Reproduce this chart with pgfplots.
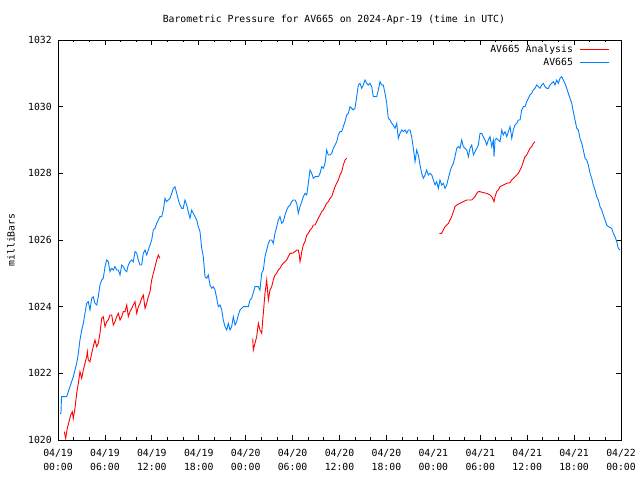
\documentclass[border=0pt]{standalone}
\usepackage{fontspec}
\setmainfont{DejaVu Sans Mono}
\usepackage{pgfplots}
\pgfplotsset{compat=1.18}
\definecolor{gpred}{RGB}{255,0,0}
\definecolor{gpblue}{RGB}{0,128,255}
\begin{document}
\begin{tikzpicture}[x=1bp,y=1bp]
\path[use as bounding box] (0,0) rectangle (640,480);
\begin{axis}[
  at={(58bp,40bp)}, anchor=south west,
  width=563bp, height=400bp, scale only axis,
  xmin=0, xmax=72, ymin=1020, ymax=1032,
  font=\fontsize{9.8bp}{14bp}\selectfont,
  axis line style={line width=0.8bp, black},
  tick style={line width=0.8bp, black},
  tick align=inside,
  major tick length=5bp, minor tick length=2.5bp,
  xtick={0,6,...,72},
  minor xtick={2,4,8,10,14,16,20,22,26,28,32,34,38,40,44,46,50,52,56,58,62,64,68,70},
  xticklabels={{04/19\\00:00},{04/19\\06:00},{04/19\\12:00},{04/19\\18:00},{04/20\\00:00},{04/20\\06:00},{04/20\\12:00},{04/20\\18:00},{04/21\\00:00},{04/21\\06:00},{04/21\\12:00},{04/21\\18:00},{04/22\\00:00}},
  xticklabel style={font=\fontsize{9.8bp}{14bp}\selectfont, align=center, inner sep=0pt, anchor=north, yshift=-9bp},
  ytick={1020,1022,1024,1026,1028,1030,1032},
  yticklabels={1020,1022,1024,1026,1028,1030,1032},
  yticklabel style={inner sep=0pt, anchor=east, xshift=-6bp},
  title={Barometric Pressure for AV665 on 2024-Apr-19 (time in UTC)},
  every axis title/.style={at={(axis description cs:0.49,1)}, anchor=base, yshift=17.5bp, inner sep=0pt},
  ylabel={milliBars},
  every axis y label/.style={at={(axis description cs:0,0.5)}, xshift=-47bp, rotate=90, anchor=center},
  unbounded coords=jump,
  legend plot pos=right,
  legend cell align=right,
  legend image code/.code={\draw[#1] (0bp,0bp) -- (29bp,0bp);},
  legend style={at={(axis description cs:0.9805,1)}, anchor=north east, yshift=-5bp,
    draw=none, fill=none, inner sep=0pt, row sep=4bp, column sep=7bp,
    nodes={inner sep=0pt, text height=7bp, text depth=2bp}},
]
\addplot[gpred, line width=0.9bp] coordinates {
(0.81,1020.25)(0.98,1020.05)(1.19,1020.35)(1.41,1020.55)(1.62,1020.75)(1.83,1020.85)(1.96,1020.65)(2.17,1020.95)(2.39,1021.4)(2.60,1021.7)(2.81,1022.05)(3.03,1021.85)(3.24,1022.1)(3.45,1022.3)(3.67,1022.5)(3.75,1022.65)(3.88,1022.4)(4.09,1022.35)(4.31,1022.6)(4.51,1022.8)(4.73,1023.0)(4.95,1022.8)(5.15,1022.9)(5.37,1023.2)(5.59,1023.65)(5.79,1023.7)(6.01,1023.4)(6.23,1023.55)(6.43,1023.6)(6.65,1023.75)(6.87,1023.75)(7.07,1023.45)(7.29,1023.55)(7.51,1023.7)(7.71,1023.8)(7.93,1023.6)(8.15,1023.7)(8.35,1023.85)(8.57,1023.85)(8.79,1024.05)(8.99,1023.7)(9.21,1023.85)(9.43,1023.95)(9.63,1024.05)(9.85,1024.15)(10.07,1023.8)(10.27,1024.0)(10.49,1024.1)(10.70,1024.25)(10.91,1024.35)(11.13,1023.95)(11.34,1024.1)(11.55,1024.3)(11.77,1024.45)(11.98,1024.8)(12.19,1025.0)(12.41,1025.2)(12.62,1025.4)(12.83,1025.55)(13.04,1025.45)
(18,nan)
(24.90,1023.05)(24.98,1022.7)(25.19,1022.9)(25.41,1023.1)(25.62,1023.5)(25.83,1023.3)(26.05,1023.2)(26.18,1023.6)(26.26,1023.8)(26.47,1024.4)(26.69,1024.8)(26.90,1024.2)(27.11,1024.5)(27.33,1024.6)(27.53,1024.8)(27.75,1024.95)(27.97,1025.0)(28.17,1025.1)(28.39,1025.15)(28.61,1025.25)(28.81,1025.3)(29.03,1025.35)(29.25,1025.4)(29.45,1025.5)(29.67,1025.6)(29.89,1025.6)(30.09,1025.62)(30.31,1025.65)(30.53,1025.7)(30.73,1025.7)(30.86,1025.55)(30.95,1025.35)(31.08,1025.5)(31.17,1025.65)(31.37,1025.85)(31.59,1025.95)(31.81,1026.15)(32.01,1026.2)(32.23,1026.3)(32.45,1026.35)(32.65,1026.45)(32.87,1026.45)(33.08,1026.55)(33.29,1026.65)(33.51,1026.75)(33.72,1026.85)(33.93,1026.9)(34.15,1027.0)(34.36,1027.1)(34.57,1027.15)(34.79,1027.25)(35.00,1027.3)(35.21,1027.45)(35.43,1027.6)(35.64,1027.7)(35.85,1027.8)(36.06,1027.95)(36.28,1028.05)(36.49,1028.25)(36.70,1028.4)(36.92,1028.45)
(42,nan)
(48.76,1026.2)(49.07,1026.2)(49.28,1026.3)(49.49,1026.4)(49.71,1026.45)(49.92,1026.5)(50.13,1026.6)(50.35,1026.7)(50.56,1026.85)(50.77,1027.0)(50.99,1027.05)(51.41,1027.1)(51.84,1027.15)(52.27,1027.2)(52.91,1027.2)(53.12,1027.25)(53.33,1027.3)(53.55,1027.4)(53.76,1027.45)(53.97,1027.45)(54.39,1027.42)(54.83,1027.4)(55.25,1027.35)(55.47,1027.3)(55.67,1027.2)(55.76,1027.15)(55.89,1027.3)(56.10,1027.45)(56.31,1027.5)(56.53,1027.6)(56.95,1027.65)(57.39,1027.7)(57.81,1027.72)(58.03,1027.8)(58.23,1027.85)(58.45,1027.9)(58.67,1027.95)(58.87,1028.0)(59.09,1028.1)(59.30,1028.2)(59.51,1028.35)(59.72,1028.5)(59.94,1028.55)(60.15,1028.65)(60.36,1028.75)(60.58,1028.8)(60.79,1028.9)(61.00,1028.95)
};
\addlegendentry{AV665 Analysis}
\addplot[gpblue, line width=0.9bp] coordinates {
(0.26,1020.8)(0.38,1020.8)(0.45,1021.3)(0.68,1021.3)(1.11,1021.3)(1.53,1021.6)(1.96,1021.9)(2.39,1022.3)(2.60,1022.6)(2.81,1023.0)(3.03,1023.3)(3.24,1023.5)(3.45,1023.8)(3.67,1024.1)(3.88,1024.15)(4.09,1023.9)(4.31,1024.25)(4.51,1024.3)(4.73,1024.1)(4.95,1024.05)(5.15,1024.3)(5.37,1024.65)(5.59,1024.8)(5.79,1024.85)(6.01,1025.2)(6.23,1025.4)(6.43,1025.35)(6.65,1025.05)(6.87,1025.15)(7.07,1025.1)(7.29,1025.2)(7.51,1025.1)(7.71,1025.1)(7.93,1024.95)(8.15,1025.25)(8.35,1025.2)(8.57,1025.1)(8.79,1025.05)(8.99,1025.25)(9.21,1025.35)(9.43,1025.4)(9.63,1025.35)(9.85,1025.65)(10.07,1025.6)(10.27,1025.4)(10.49,1025.25)(10.70,1025.25)(10.91,1025.6)(11.13,1025.7)(11.34,1025.55)(11.55,1025.7)(11.77,1025.85)(11.98,1026.0)(12.19,1026.3)(12.41,1026.35)(12.62,1026.5)(12.83,1026.6)(13.04,1026.7)(13.26,1026.7)(13.47,1026.9)(13.68,1027.25)(13.90,1027.15)(14.11,1027.2)(14.32,1027.25)(14.54,1027.4)(14.75,1027.55)(14.96,1027.6)(15.18,1027.4)(15.39,1027.2)(15.60,1027.05)(15.82,1026.95)(16.02,1026.95)(16.24,1027.2)(16.46,1027.05)(16.66,1026.85)(16.88,1026.65)(17.10,1026.9)(17.30,1026.8)(17.52,1026.7)(17.74,1026.6)(17.94,1026.4)(18.16,1026.25)(18.38,1025.75)(18.58,1025.5)(18.80,1024.9)(19.02,1024.85)(19.22,1024.95)(19.44,1024.65)(19.66,1024.55)(19.86,1024.6)(20.08,1024.5)(20.30,1024.25)(20.50,1024.0)(20.72,1024.05)(20.94,1023.9)(21.14,1023.6)(21.36,1023.4)(21.58,1023.3)(21.78,1023.5)(22.00,1023.3)(22.21,1023.4)(22.42,1023.7)(22.64,1023.45)(22.85,1023.55)(23.06,1023.75)(23.28,1023.9)(23.70,1024.0)(24.34,1024.0)(24.55,1024.2)(24.77,1024.25)(25.19,1024.6)(25.62,1024.6)(25.83,1024.5)(26.05,1025.0)(26.26,1025.1)(26.47,1025.5)(26.69,1025.7)(26.90,1025.9)(27.11,1026.0)(27.33,1026.0)(27.53,1025.9)(27.75,1026.2)(27.97,1026.4)(28.17,1026.6)(28.39,1026.7)(28.61,1026.5)(28.81,1026.55)(29.03,1026.75)(29.25,1026.9)(29.45,1027.0)(29.67,1027.05)(29.89,1027.15)(30.09,1027.2)(30.31,1027.2)(30.53,1027.1)(30.73,1026.8)(30.95,1027.0)(31.17,1027.15)(31.37,1027.3)(31.59,1027.4)(31.81,1027.35)(32.01,1027.7)(32.23,1028.1)(32.45,1028.0)(32.65,1027.85)(32.87,1027.9)(33.29,1027.9)(33.51,1028.0)(33.72,1028.2)(33.93,1028.15)(34.15,1028.3)(34.36,1028.7)(34.57,1028.55)(34.79,1028.55)(35.00,1028.6)(35.21,1028.75)(35.43,1028.85)(35.64,1028.95)(35.85,1029.15)(36.06,1029.25)(36.28,1029.25)(36.49,1029.4)(36.70,1029.55)(36.92,1029.75)(37.13,1029.8)(37.34,1030.0)(37.56,1029.95)(37.77,1029.9)(37.98,1029.95)(38.20,1030.3)(38.41,1030.65)(38.62,1030.7)(38.84,1030.55)(39.04,1030.65)(39.26,1030.8)(39.48,1030.7)(39.68,1030.65)(39.90,1030.7)(40.12,1030.6)(40.32,1030.3)(40.76,1030.3)(40.96,1030.5)(41.18,1030.75)(41.40,1030.65)(41.60,1030.65)(41.82,1030.4)(42.04,1030.1)(42.24,1029.65)(42.46,1029.6)(42.68,1029.5)(42.88,1029.45)(43.10,1029.35)(43.32,1029.5)(43.52,1029.05)(43.74,1029.2)(43.95,1029.3)(44.16,1029.25)(44.38,1029.3)(44.59,1029.2)(44.80,1029.3)(45.02,1029.3)(45.23,1029.1)(45.44,1028.75)(45.66,1028.35)(45.87,1028.7)(46.08,1028.55)(46.30,1028.25)(46.51,1028.0)(46.72,1027.85)(46.94,1027.95)(47.15,1028.1)(47.36,1027.95)(47.58,1028.0)(47.80,1027.95)(48.00,1027.8)(48.22,1027.65)(48.43,1027.75)(48.64,1027.55)(48.85,1027.8)(49.07,1027.65)(49.28,1027.7)(49.49,1027.55)(49.71,1027.65)(49.92,1027.85)(50.13,1028.05)(50.35,1028.2)(50.56,1028.3)(50.77,1028.5)(50.99,1028.75)(51.20,1028.8)(51.41,1028.75)(51.63,1029.0)(51.84,1028.8)(52.05,1028.75)(52.27,1028.7)(52.48,1028.5)(52.69,1028.75)(52.91,1028.85)(53.12,1028.55)(53.33,1028.65)(53.55,1028.75)(53.76,1028.85)(53.97,1029.2)(54.19,1029.2)(54.39,1029.1)(54.61,1029.0)(54.83,1028.85)(55.03,1029.0)(55.25,1029.1)(55.47,1028.8)(55.67,1029.0)(55.76,1028.5)(55.89,1029.0)(56.10,1029.05)(56.31,1029.0)(56.53,1028.95)(56.75,1029.3)(56.95,1029.15)(57.17,1029.25)(57.39,1029.1)(57.59,1029.25)(57.81,1029.4)(58.03,1029.05)(58.23,1029.3)(58.45,1029.45)(58.67,1029.5)(58.87,1029.6)(59.09,1029.6)(59.30,1029.9)(59.51,1030.0)(59.72,1030.0)(59.94,1030.15)(60.15,1030.25)(60.36,1030.35)(60.58,1030.4)(60.79,1030.5)(61.00,1030.55)(61.22,1030.65)(61.43,1030.6)(61.64,1030.55)(61.86,1030.65)(62.07,1030.7)(62.28,1030.6)(62.50,1030.55)(62.71,1030.55)(62.92,1030.65)(63.14,1030.7)(63.35,1030.75)(63.56,1030.65)(63.78,1030.8)(63.99,1030.7)(64.20,1030.85)(64.42,1030.9)(64.62,1030.8)(64.84,1030.7)(65.06,1030.55)(65.26,1030.4)(65.48,1030.25)(65.70,1030.1)(65.90,1029.85)(66.12,1029.6)(66.34,1029.35)(66.54,1029.3)(66.76,1029.05)(66.98,1028.9)(67.18,1028.7)(67.40,1028.45)(67.62,1028.4)(67.82,1028.25)(68.04,1028.0)(68.25,1027.85)(68.46,1027.65)(68.68,1027.5)(68.89,1027.3)(69.10,1027.2)(69.32,1027.0)(69.53,1026.9)(69.74,1026.75)(69.96,1026.6)(70.17,1026.45)(70.38,1026.4)(70.81,1026.35)(71.02,1026.2)(71.24,1026.1)(71.45,1025.95)(71.66,1025.75)(71.87,1025.7)
};
\addlegendentry{AV665}
\end{axis}
\end{tikzpicture}
\end{document}
